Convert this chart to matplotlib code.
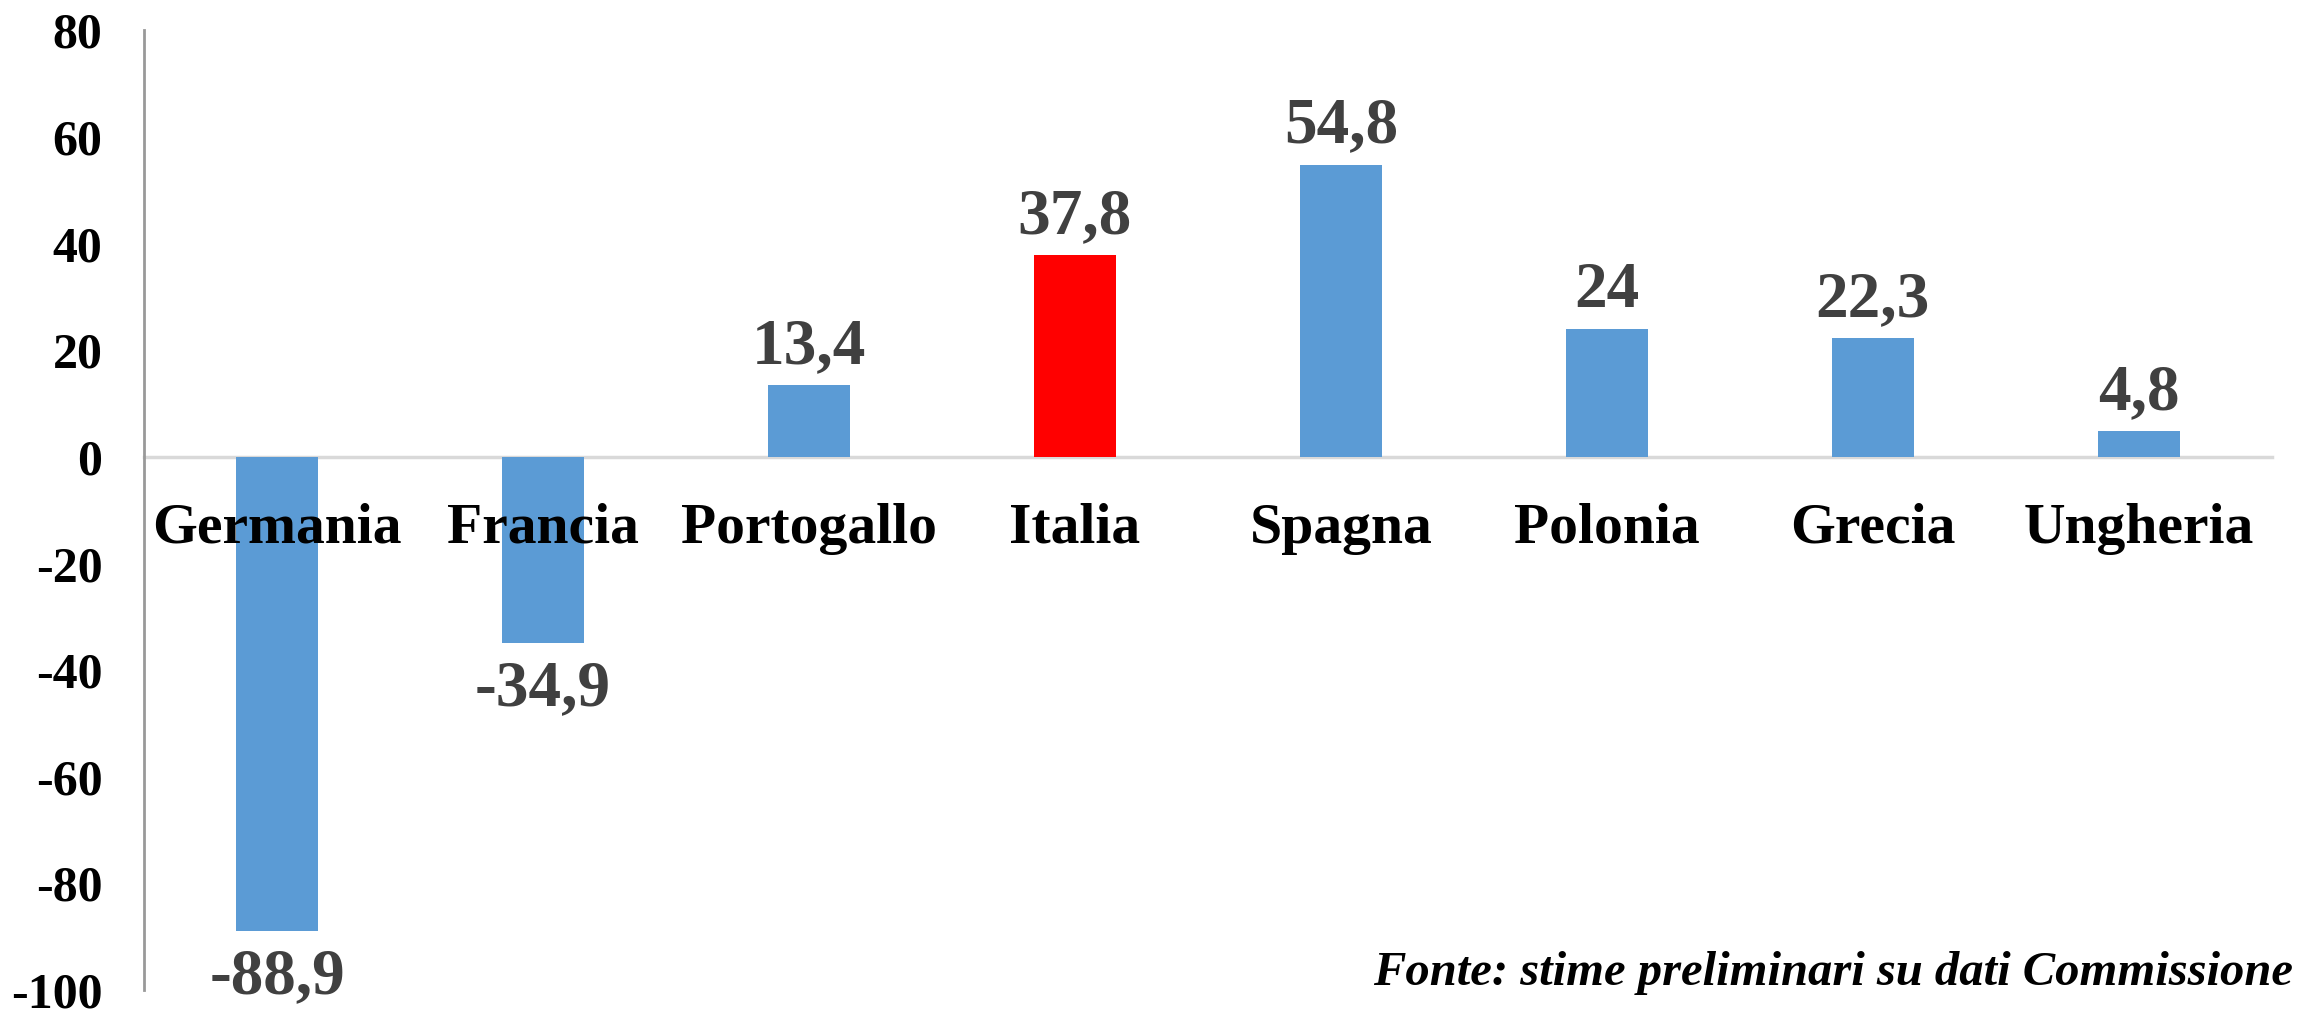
import matplotlib
matplotlib.use("Agg")
import matplotlib.pyplot as plt

categories = ["Germania", "Francia", "Portogallo", "Italia", "Spagna", "Polonia", "Grecia", "Ungheria"]
values = [-88.9, -34.9, 13.4, 37.8, 54.8, 24.0, 22.3, 4.8]
value_labels = ["-88,9", "-34,9", "13,4", "37,8", "54,8", "24", "22,3", "4,8"]
highlight = "Italia"
yticks = [-100, -80, -60, -40, -20, 0, 20, 40, 60, 80]
source = "Fonte: stime preliminari su dati Commissione"

plt.rcParams['font.family'] = ['Liberation Serif', 'DejaVu Serif']

fig = plt.figure(figsize=(22.97, 10.14), dpi=100)
ax = fig.add_axes([0.0627, 0.0237, 0.9263, 0.9463])

for s in ['top', 'right']:
    ax.spines[s].set_visible(False)
ax.spines['bottom'].set_position(('data', 0))
ax.spines['bottom'].set_color('#D9D9D9')
ax.spines['bottom'].set_linewidth(2.5)
ax.spines['left'].set_color('#999999')
ax.spines['left'].set_linewidth(2)
ax.spines['bottom'].set_zorder(0.5)

colors = ["#FF0000" if c == highlight else "#5B9BD5" for c in categories]
x = list(range(len(categories)))
bars = ax.bar(x, values, width=0.31, color=colors, zorder=1)

ax.set_xlim(-0.5, len(categories) - 0.5)
ax.set_ylim(-100, 80)
ax.set_yticks(yticks)
ax.set_yticklabels([str(t) for t in yticks], fontsize=36, fontweight='bold')
ax.tick_params(axis='y', length=0, pad=30)

ax.set_xticks(x)
ax.set_xticklabels(categories, fontsize=41.5, fontweight='bold')
ax.tick_params(axis='x', length=0, pad=33)

for xi, v, lab in zip(x, values, value_labels):
    if v >= 0:
        ax.annotate(lab, (xi, v), xytext=(0, 16), textcoords='offset points',
                    ha='center', va='baseline', fontsize=47, fontweight='bold', color='#404040')
    else:
        ax.annotate(lab, (xi, v), xytext=(0, -12), textcoords='offset points',
                    ha='center', va='top', fontsize=47, fontweight='bold', color='#404040')

fig.text(0.9983, 1 - 985 / 1014, source, ha='right', va='baseline',
         fontsize=35, fontweight='bold', fontstyle='italic', color='black')

fig.savefig("out.png", dpi=100)
